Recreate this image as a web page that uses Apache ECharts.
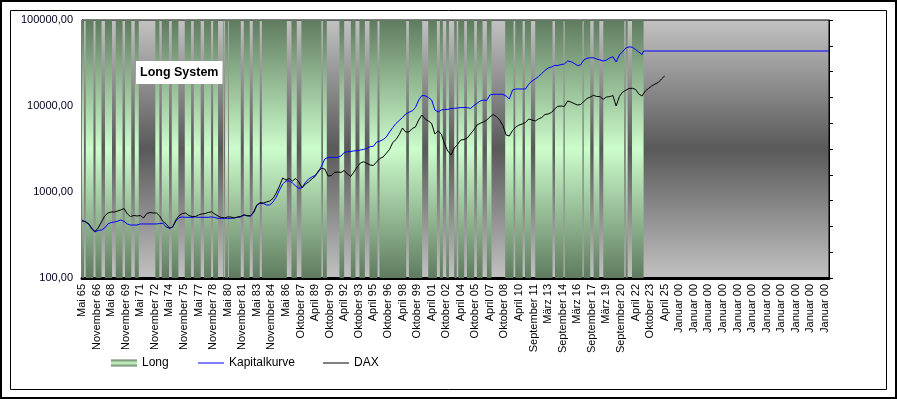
<!DOCTYPE html>
<html>
<head>
<meta charset="utf-8">
<title>Long System</title>
<script src="https://cdn.jsdelivr.net/npm/echarts@6/dist/echarts.min.js"></script>
<style>
  html, body { margin: 0; padding: 0; background: #fff; }
  #chart { width: 897px; height: 399px; }
</style>
</head>
<body>
<div id="chart"></div>
<script>
// x unit = months since Mai 65, one tick label every 18 months
var labelStep = 18
var axisEnd = 923
var tickLabels = [
  'Mai 65', 'November 66', 'Mai 68', 'November 69', 'Mai 71', 'November 72', 'Mai 74',
  'November 75', 'Mai 77', 'November 78', 'Mai 80', 'November 81', 'Mai 83', 'November 84',
  'Mai 86', 'Oktober 87', 'April 89', 'Oktober 90', 'April 92', 'Oktober 93', 'April 95',
  'Oktober 96', 'April 98', 'Oktober 99', 'April 01', 'Oktober 02', 'April 04', 'Oktober 05',
  'April 07', 'Oktober 08', 'April 10', 'September 11', 'März 13', 'September 14', 'März 16',
  'September 17', 'März 19', 'September 20', 'April 22', 'Oktober 23', 'April 25',
  'Januar 00', 'Januar 00', 'Januar 00', 'Januar 00', 'Januar 00', 'Januar 00',
  'Januar 00', 'Januar 00', 'Januar 00', 'Januar 00', 'Januar 00'
]

// one value every 4 months
var dataStep = 4
var dax = [
  460, 454, 430, 381, 347, 381, 448, 526, 570, 585,
  585, 601, 618, 643, 555, 519, 533, 526, 533, 499,
  562, 578, 570, 570, 526, 454, 425, 381, 392, 473,
  533, 562, 570, 533, 519, 519, 541, 555, 562, 578,
  590, 555, 526, 505, 501, 513, 512, 499, 512, 519,
  541, 533, 526, 585, 707, 750, 745, 765, 786, 841,
  974, 1174, 1455, 1379, 1436, 1343, 1436, 1307, 1113, 1239,
  1307, 1416, 1515, 1755, 1880, 1852, 1535, 1555, 1686, 1708,
  1686, 1779, 1619, 1515, 1708, 1953, 2174, 2250, 2160, 2060,
  2033, 2233, 2453, 2550, 2820, 3118, 3766, 4075, 4663, 5548,
  4985, 4985, 5477, 5703, 6874, 7843, 7063, 6695, 6269, 4725,
  5120, 4725, 3615, 2998, 2692, 3248, 3568, 4024, 4075, 4245,
  4725, 5259, 6000, 6300, 6516, 6874, 7450, 7960, 7560, 6874,
  5930, 4600, 4479, 5190, 5703, 6015, 6176, 6430, 7063, 6874,
  6695, 7063, 7345, 7960, 8073, 8400, 9230, 9920, 10000, 9870,
  11430, 11130, 10690, 10270, 10410, 11270, 12220, 12710, 13310, 12900,
  12860, 11950, 12710, 12860, 13230, 10000, 12900, 14550, 15270, 15990,
  16060, 15600, 13790, 13070, 14940, 15990, 17080, 18020, 18760, 20600,
  22330
]
var kapital = [
  473, 448, 425, 371, 343, 357, 361, 381, 425, 442,
  448, 457, 473, 454, 425, 413, 413, 413, 425, 425,
  425, 425, 425, 425, 430, 433, 392, 378, 392, 460,
  505, 512, 508, 508, 508, 513, 508, 508, 508, 508,
  513, 505, 494, 494, 494, 494, 494, 499, 508, 513,
  541, 526, 526, 570, 697, 740, 735, 707, 707, 765,
  874, 1055, 1239, 1343, 1343, 1273, 1174, 1100, 1125, 1290,
  1416, 1494, 1555, 1708, 2006, 2420, 2527, 2527, 2527, 2527,
  2621, 2880, 2940, 2955, 3010, 3020, 3078, 3130, 3210, 3370,
  3390, 3814, 3890, 4075, 4360, 4985, 5620, 6269, 6790, 7345,
  8073, 8450, 8780, 9590, 11740, 13230, 13150, 12550, 11740, 8985,
  8517, 8985, 9100, 9130, 9360, 9400, 9480, 9590, 9590, 9590,
  9360, 10080, 10740, 11440, 11740, 11590, 13430, 13680, 13680, 13680,
  13680, 13070, 12070, 15350, 15770, 15770, 15770, 15770, 18020, 19530,
  20600, 22030, 23860, 25880, 27660, 28420, 29680, 29580, 30390, 30780,
  33380, 32790, 31420, 29580, 29980, 34260, 35850, 36420, 36420, 35200,
  34260, 33380, 34260, 36150, 37420, 32480, 39180, 42950, 47250, 48700,
  48200, 45300, 42450, 39740
]
// flat part of the equity curve after the last trade [month, value]
var kapitalTail = [[694, 43600], [923, 43600]]

// months in the market (Long = 1), [from, to]
var longPeriods = [
  [0, 2.5], [4.6, 14.2], [16.7, 24.1], [28.4, 37.1], [41.7, 50.1], [53.2, 60.9],
  [65.2, 70.1], [90.6, 95.6], [98.5, 107.6], [110.9, 119.1], [127, 134.8],
  [138.1, 146.7], [150.8, 159.5], [162, 168.1], [174.7, 175.6], [176.8, 180.5],
  [181.4, 196.2], [199.9, 207.3], [211, 219.7], [222.2, 253.1], [258.8, 265.4],
  [271.1, 295.8], [297.6, 302.5], [318.1, 323.9], [332.2, 337.9], [342.8, 349.5],
  [355.2, 365.1], [367.6, 400.6], [403.9, 420.3], [427.8, 438.5], [442.2, 445.9],
  [450, 453.4], [459.9, 463], [464.9, 472.3], [475.6, 484.6], [488, 494.9],
  [500.3, 506], [522.9, 533.2], [535.3, 544.4], [547.3, 554.7], [560, 581.4],
  [584.4, 595], [596.3, 618.5], [619.8, 628], [632.1, 639.2], [644.1, 670.1],
  [671.7, 674.2], [679.6, 693.9]
]

function vGrad(edge, mid) {
  return {
    type: 'linear', x: 0, y: 0, x2: 0, y2: 1,
    colorStops: [
      { offset: 0, color: edge },
      { offset: 0.5, color: mid },
      { offset: 1, color: edge }
    ]
  }
}
var longFill = vGrad('#5f7b5f', '#ccfccc')
var plotFill = vGrad('#c2c2c2', '#595959')
var font = 'Arial, "Liberation Sans", sans-serif'

function legendAt(name, left, icon, h, color) {
  return {
    data: [{ name: name, icon: icon, itemStyle: { color: color } }],
    left: left,
    top: 357,
    padding: 0,
    itemWidth: 26,
    itemHeight: h,
    textStyle: { fontSize: 12, color: '#000', fontFamily: font }
  }
}

var chart = echarts.init(document.getElementById('chart'))

chart.setOption({
  animation: false,
  backgroundColor: '#fff',
  textStyle: { fontFamily: font },
  title: {
    text: 'Long System',
    left: 136,
    top: 61,
    padding: [5, 4],
    backgroundColor: '#fff',
    textStyle: { fontSize: 12.5, fontWeight: 'bold', color: '#000', fontFamily: font }
  },
  graphic: [
    { type: 'rect', shape: { x: 1, y: 1, width: 895, height: 397 }, style: { fill: 'none', stroke: '#000', lineWidth: 2 } },
    { type: 'rect', shape: { x: 10.5, y: 10.5, width: 876, height: 379 }, style: { fill: 'none', stroke: '#000', lineWidth: 1 } }
  ],
  legend: [
    legendAt('Long', 111, 'rect', 7, longFill),
    legendAt('Kapitalkurve', 198, 'rect', 1, '#0000ff'),
    legendAt('DAX', 323, 'rect', 1, '#000')
  ],
  grid: {
    left: 82,
    right: 68,
    top: 20,
    bottom: 121,
    show: true,
    backgroundColor: plotFill,
    borderColor: '#000',
    borderWidth: 1
  },
  xAxis: {
    type: 'value',
    min: 0,
    max: axisEnd,
    interval: labelStep,
    axisLine: { lineStyle: { color: '#000', width: 3 } },
    axisTick: { show: false },
    splitLine: { show: false },
    axisLabel: {
      rotate: 90,
      margin: 6,
      fontSize: 11,
      color: '#000',
      formatter: function (v) {
        var i = v / labelStep
        return Number.isInteger(i) && tickLabels[i] ? tickLabels[i] : ''
      }
    }
  },
  yAxis: [
    {
      type: 'log',
      logBase: 10,
      min: 100,
      max: 100000,
      axisLine: { show: true, lineStyle: { color: '#000', width: 1 } },
      axisTick: { show: false },
      splitLine: { show: false },
      axisLabel: {
        margin: 9,
        fontSize: 11,
        color: '#000022',
        formatter: function (v) { return v.toFixed(2).replace('.', ',') }
      }
    },
    {
      type: 'value',
      position: 'right',
      min: 0,
      max: 1,
      interval: 0.1,
      axisLine: { show: true, lineStyle: { color: '#000', width: 1 } },
      axisTick: { show: true, length: 4, lineStyle: { color: '#000' } },
      splitLine: { show: false },
      axisLabel: { show: false }
    }
  ],
  series: [
    {
      name: 'Long',
      type: 'custom',
      yAxisIndex: 1,
      z: 1,
      itemStyle: { color: longFill },
      encode: { x: [0, 1] },
      data: longPeriods,
      renderItem: function (params, api) {
        var a = api.coord([api.value(0), 1])
        var b = api.coord([api.value(1), 0])
        return {
          type: 'rect',
          shape: { x: a[0], y: a[1], width: b[0] - a[0], height: b[1] - a[1] },
          style: { fill: longFill }
        }
      }
    },
    {
      name: 'Kapitalkurve',
      type: 'line',
      z: 3,
      symbol: 'none',
      color: '#0000ff',
      lineStyle: { color: '#0000ff', width: 1 },
      data: kapital.map(function (v, i) { return [i * dataStep, v] }).concat(kapitalTail)
    },
    {
      name: 'DAX',
      type: 'line',
      z: 4,
      symbol: 'none',
      color: '#000',
      lineStyle: { color: '#000', width: 1 },
      data: dax.map(function (v, i) { return [i * dataStep, v] })
    }
  ]
})
</script>
</body>
</html>
